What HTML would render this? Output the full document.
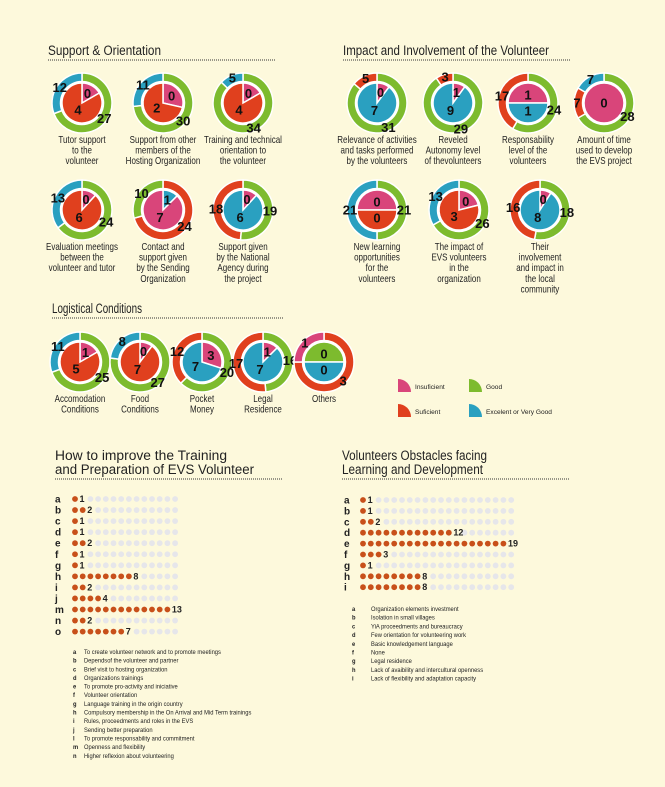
<!DOCTYPE html>
<html><head><meta charset="utf-8">
<style>
body{margin:0;background:#fdf9dc;}
svg{display:block;font-family:"Liberation Sans",sans-serif;}
.cap{font-size:10px;fill:#222;text-anchor:middle;}
.title{font-size:13.5px;fill:#222;}
.num{font-family:"Liberation Sans",sans-serif;font-weight:bold;font-size:13px;fill:#111;text-anchor:middle;dominant-baseline:central;}
.leg{font-size:6.6px;fill:#222;}
.let{font-family:"Liberation Sans",sans-serif;font-weight:bold;font-size:10px;fill:#222;}
.dv{font-family:"Liberation Sans",sans-serif;font-weight:bold;font-size:9px;fill:#222;dominant-baseline:central;}
</style></head>
<body>
<svg id="main" width="665" height="787" viewBox="0 0 665 787">
<rect width="665" height="787" fill="#fdf9dc"/>
<g>
<text class="title" x="48" y="55" textLength="113" lengthAdjust="spacingAndGlyphs">Support &amp; Orientation</text>
<line x1="48" y1="60" x2="276" y2="60" stroke="#333" stroke-dasharray="1,1"/>
<text class="title" x="343" y="55" textLength="206" lengthAdjust="spacingAndGlyphs">Impact and Involvement of the Volunteer</text>
<line x1="343" y1="60" x2="570" y2="60" stroke="#333" stroke-dasharray="1,1"/>
<text class="title" x="52" y="313" textLength="90" lengthAdjust="spacingAndGlyphs">Logistical Conditions</text>
<line x1="52" y1="318" x2="283" y2="318" stroke="#333" stroke-dasharray="1,1"/>
<text class="title" x="55" y="460" textLength="172" lengthAdjust="spacingAndGlyphs">How to improve the Training</text>
<text class="title" x="55" y="474" textLength="199" lengthAdjust="spacingAndGlyphs">and Preparation of EVS Volunteer</text>
<line x1="55" y1="479" x2="282" y2="479" stroke="#333" stroke-dasharray="1,1"/>
<text class="title" x="342" y="460" textLength="145" lengthAdjust="spacingAndGlyphs">Volunteers Obstacles facing</text>
<text class="title" x="342" y="474" textLength="141" lengthAdjust="spacingAndGlyphs">Learning and Development</text>
<line x1="342" y1="479" x2="570" y2="479" stroke="#333" stroke-dasharray="1,1"/>
</g>
<g>
<path d="M398,392 L398,379 A13,13 0 0 1 411,392 Z" fill="#d9457a"/>
<text class="leg" x="415" y="389">Insuficient</text>
<path d="M469,392 L469,379 A13,13 0 0 1 482,392 Z" fill="#7dbb2e"/>
<text class="leg" x="486" y="389">Good</text>
<path d="M398,417 L398,404 A13,13 0 0 1 411,417 Z" fill="#e0401e"/>
<text class="leg" x="415" y="414">Suficient</text>
<path d="M469,417 L469,404 A13,13 0 0 1 482,417 Z" fill="#2aa0c0"/>
<text class="leg" x="486" y="414">Excelent or Very Good</text>
</g>
</svg>
<script>
const NS="http://www.w3.org/2000/svg";
const svg=document.getElementById('main');
const COL={G:"#7dbb2e",B:"#2aa0c0",R:"#e0401e",P:"#d9457a"};
// donut data
const donutTitles=[
["Tutor support","to the","volunteer"],
["Support from other","members of the","Hosting Organization"],
["Training and technical","orientation to","the volunteer"],
["Evaluation meetings","between the","volunteer and tutor"],
["Contact and","support given","by the Sending","Organization"],
["Support given","by the National","Agency during","the project"],
["Relevance of activities","and tasks performed","by the volunteers"],
["Reveled","Autonomy level","of thevolunteers"],
["Responsability","level of the","volunteers"],
["Amount of time","used to develop","the EVS project"],
["New learning","opportunities","for the","volunteers"],
["The impact of","EVS volunteers","in the","organization"],
["Their","involvement","and impact in","the local","community"],
["Accomodation","Conditions"],
["Food","Conditions"],
["Pocket","Money"],
["Legal","Residence"],
["Others"]];
const outerValues=[[27,12],[30,11],[34,5],[24,13],[24,10],[19,18],[31,5],[29,3],[24,17],[28,7,7],[21,21],[26,13],[18,16],[25,11],[27,8],[20,12],[16,17],[3,1]];
const outerColors=[["G","B"],["G","B"],["G","B"],["G","B"],["R","G"],["G","R"],["G","R"],["G","R"],["G","R"],["G","R","B"],["G","B"],["G","B"],["G","R"],["G","B"],["G","B"],["G","R"],["G","R"],["R","P"]];
const innerValues=[[0,4],[0,2],[0,4],[0,6],[1,7],[0,6],[0,7],[1,9],[1,1],[0],[0,0],[0,3],[0,8],[1,5],[0,7],[3,7],[1,7],[0,0]];
const innerColors=[["P","R"],["P","R"],["P","R"],["P","R"],["B","P"],["P","B"],["P","B"],["P","B"],["P","B"],["P"],["P","R"],["P","R"],["P","B"],["P","R"],["P","R"],["P","B"],["P","B"],["G","B"]];
// layout (not data)
const layout=[[82,103],[163,103],[243,103],[82,210],[163,210],[243,210],
[377,103],[453,103],[528,103],[604,103],[377,210],[459,210],[540,210],
[80,362],[140,362],[202,362],[263,362],[324,362]];
const halfStart=[8,10,17];
function pt(cx,cy,r,a){const t=a*Math.PI/180;return [cx+r*Math.sin(t),cy-r*Math.cos(t)];}
function ring(cx,cy,r1,r2,a0,a1){
 const L=(a1-a0)>180?1:0;const p=pt(cx,cy,r2,a0),q=pt(cx,cy,r2,a1),s=pt(cx,cy,r1,a1),u=pt(cx,cy,r1,a0);
 return `M${p} A${r2},${r2} 0 ${L} 1 ${q} L${s} A${r1},${r1} 0 ${L} 0 ${u}Z`;}
function wedge(cx,cy,r,a0,a1){
 if(a1-a0>=359.9) return `M${cx-r},${cy} a${r},${r} 0 1 0 ${2*r},0 a${r},${r} 0 1 0 ${-2*r},0`;
 const L=(a1-a0)>180?1:0;const p=pt(cx,cy,r,a0),q=pt(cx,cy,r,a1);
 return `M${cx},${cy} L${p} A${r},${r} 0 ${L} 1 ${q}Z`;}
function mk(tag,attrs,parent){const e=document.createElementNS(NS,tag);for(const k in attrs)e.setAttribute(k,attrs[k]);(parent||svg).appendChild(e);return e;}
const RO=30,RI=21.5,RP=20;
donutTitles.forEach((title,i)=>{
 const [cx,cy]=layout[i];
 const g=mk('g',{});
 
 
 const ov=outerValues[i],tot=ov.reduce((a,b)=>a+b,0);let a=0;const olab=[];
 ov.forEach((v,j)=>{const a1=a+v/tot*360;
  const p=mk('path',{d:ring(cx,cy,RI,RO,a,a1),fill:COL[outerColors[i][j]],stroke:"#fff","stroke-width":1.5},g);
  
  
  olab.push([v,(a+a1)/2]);a=a1;});
 const iv=innerValues[i];const disp=iv.map(v=>v===0&&iv.length>1&&iv.some(x=>x>0)?0.8:(v===0?1:v));
 const it=disp.reduce((x,y)=>x+y,0);let b=halfStart.includes(i)?-90:0;const ilab=[];
 disp.forEach((v,j)=>{const b1=b+v/it*360;
  const p=mk('path',{d:wedge(cx,cy,RP,b,b1),fill:COL[innerColors[i][j]],stroke:"#fff","stroke-width":1.5},g);
  
  
  ilab.push([iv[j],(b+b1)/2,(b1-b)]);b=b1;});
 mk('circle',{cx,cy,r:RP+0.8,fill:"none",stroke:"#fff","stroke-width":1.5},g);
 ilab.forEach(([v,m,span])=>{const rr=span>=359?0:(span<150?11:8);const [x,y]=pt(cx,cy,rr,m);
  const t=mk('text',{x,y,class:"num"},g);t.textContent=v;
  
  });
 olab.forEach(([v,m])=>{const [x,y]=pt(cx,cy,RO-3,m);
  const t=mk('text',{x,y,class:"num"},g);t.textContent=v;
  
  });
 const cap=mk('text',{class:"cap",x:cx,y:cy+RO+10,transform:`translate(${cx},0) scale(0.8,1) translate(${-cx},0)`},g);
 
 
 title.forEach((ln,k)=>{const ts=mk('tspan',{x:cx,dy:k?10.6:0},cap);ts.textContent=ln;});
});
// dot charts
const leftLetters=["a","b","c","d","e","f","g","h","i","j","m","n","o"];
const leftValues=[1,2,1,1,2,1,1,8,2,4,13,2,7];
const rightLetters=["a","b","c","d","e","f","g","h","i"];
const rightValues=[1,1,2,12,19,3,1,8,8];
const leftLegendKeys=["a","b","c","d","e","f","g","h","i","j","l","m","n"];
const leftLegend=["To create volunteer network and to promote meetings","Dependsof the volunteer and partner","Brief visit to hosting organization","Organizations trainings","To promote pro-activity and iniciative","Volunteer orientation","Language training in the origin country","Compulsory membership in the On Arrival and Mid Term trainings","Rules, proceedments and roles in the EVS","Sending better preparation","To promote responsability and commitment","Openness and flexibility","Higher reflexion about volunteering"];
const rightLegendKeys=["a","b","c","d","e","f","g","h","i"];
const rightLegend=["Organization elements investment","Isolation in small villages","YiA proceedments and bureaucracy","Few orientation for volunteering work","Basic knowledgement language","None","Legal residence","Lack of avaibility and intercultural openness","Lack of flexibility and adaptation capacity"];
function dotChart(letters,values,total,lx,x0,step,y0,dy,name){
 const g=mk('g',{});
 
 
 const xs=k=>x0+k*step, ys=r=>y0+r*dy;
 letters.forEach((L,r)=>{
  const t=mk('text',{x:lx,y:ys(r)+3.5,class:"let"},g);t.textContent=L;
  
  
  const v=values[r];
  for(let c=0;c<total;c++){
   if(c<v){const d=mk('circle',{cx:xs(c),cy:ys(r),r:2.9,fill:"#c8501a"},g);
    
    }
   else if(c>v){const d=mk('circle',{cx:xs(c),cy:ys(r),r:2.9,fill:"#e6e6ea"},g);
    
    }
  }
  const vt=mk('text',{x:xs(v)-3.2,y:ys(r),class:"dv"},g);vt.textContent=v;
  
  
 });}
dotChart(leftLetters,leftValues,14,55,75,7.7,499,11.05,"training-dot-chart");
dotChart(rightLetters,rightValues,20,344,363,7.8,500,10.9,"obstacles-dot-chart");
function legendList(keys,items,kx,tx,y0,dy,name){
 const g=mk('g',{transform:`translate(${kx},0) scale(0.88,1) translate(${-kx},0)`});
 
 
 items.forEach((s,i)=>{const a=mk('text',{x:kx,y:y0+i*dy,class:"leg","font-weight":"bold"},g);a.textContent=keys[i];
  const b=mk('text',{x:kx+(tx-kx)/0.88,y:y0+i*dy,class:"leg"},g);b.textContent=s;
  
  });}
legendList(leftLegendKeys,leftLegend,73,84,654,8.65,"training-legend");
legendList(rightLegendKeys,rightLegend,352,371,611,8.7,"obstacles-legend");
</script>
</body></html>
